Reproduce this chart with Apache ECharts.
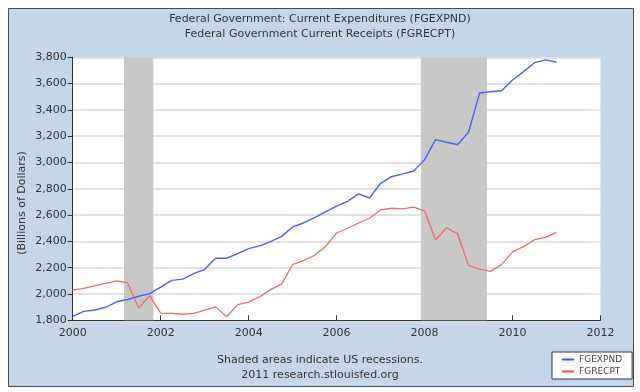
<!DOCTYPE html>
<html>
<head>
<meta charset="utf-8">
<script src="https://cdn.jsdelivr.net/npm/echarts@6/dist/echarts.min.js"></script>
<style>
html,body{margin:0;padding:0;background:#fff;}
#c{width:640px;height:392px;}
</style>
</head>
<body>
<div id="c"></div>
<script>
// Quarterly observations, 2000Q1 .. 2011Q1
var quarters = [
 '2000Q1','2000Q2','2000Q3','2000Q4','2001Q1','2001Q2','2001Q3','2001Q4',
 '2002Q1','2002Q2','2002Q3','2002Q4','2003Q1','2003Q2','2003Q3','2003Q4',
 '2004Q1','2004Q2','2004Q3','2004Q4','2005Q1','2005Q2','2005Q3','2005Q4',
 '2006Q1','2006Q2','2006Q3','2006Q4','2007Q1','2007Q2','2007Q3','2007Q4',
 '2008Q1','2008Q2','2008Q3','2008Q4','2009Q1','2009Q2','2009Q3','2009Q4',
 '2010Q1','2010Q2','2010Q3','2010Q4','2011Q1'
];
var fgexpnd = [
 1830,1868,1878,1899,1941,1958,1983,2003,
 2053,2104,2113,2155,2188,2272,2272,2307,
 2345,2366,2398,2438,2510,2540,2580,2624,
 2669,2705,2762,2730,2842,2892,2913,2935,
 3020,3174,3154,3135,3230,3528,3538,3546,
 3627,3691,3759,3780,3762
];
var fgrecpt = [
 2030,2043,2061,2081,2100,2084,1893,1988,
 1855,1853,1846,1853,1878,1902,1827,1919,
 1939,1978,2033,2075,2224,2255,2294,2362,
 2464,2500,2540,2576,2639,2652,2647,2661,
 2633,2411,2504,2458,2218,2190,2172,2223,
 2320,2360,2413,2430,2469
];
// Recessions (decimal years)
var recessionStarts = [2001.167, 2007.917];
var recessionEnds   = [2001.833, 2009.417];
var xTicks = ['2000','2002','2004','2006','2008','2010','2012'];
var yTicks = ['1,800','2,000','2,200','2,400','2,600','2,800','3,000','3,200','3,400','3,600','3,800'];
var titleLines = ['Federal Government: Current Expenditures (FGEXPND)','Federal Government Current Receipts (FGRECPT)'];
var footLines = ['Shaded areas indicate US recessions.','2011 research.stlouisfed.org'];
var seriesNames = ['FGEXPND','FGRECPT'];

function qToYear(q){ return parseInt(q.slice(0,4),10) + (parseInt(q.slice(5),10)-1)/4; }
function pairs(vals){ return quarters.map(function(q,i){ return [qToYear(q), vals[i]]; }); }

var FONT = 'DejaVu Sans';
var chart = echarts.init(document.getElementById('c'), null, {renderer:'canvas'});
var areas = recessionStarts.map(function(s,i){ return [{xAxis:s},{xAxis:recessionEnds[i]}]; });

chart.setOption({
  animation:false,
  backgroundColor:'#ffffff',
  graphic:[
    {type:'rect', z:-10, shape:{x:8.5,y:8.5,width:625,height:378}, style:{fill:'#c4d6ea', stroke:'#4a4a4a', lineWidth:1}},
    {type:'text', z:10, left:'center', top:12, style:{text:titleLines.join('\n'), font:'11px "'+FONT+'"', fill:'#333', textAlign:'center', lineHeight:15}},
    {type:'text', z:10, left:'center', top:353, style:{text:footLines.join('\n'), font:'11px "'+FONT+'"', fill:'#333', textAlign:'center', lineHeight:15}},
    {type:'text', z:10, x:22, y:203, rotation:Math.PI/2, style:{text:'(Billions of Dollars)', font:'11px "'+FONT+'"', fill:'#333', textAlign:'center', textVerticalAlign:'middle'}}
  ],
  grid:{left:72.7, right:39.5, top:57.3, bottom:71.7, show:true, backgroundColor:'#ffffff', borderWidth:0},
  legend:{
    data:seriesNames.map(function(n){return {name:n, icon:'rect'};}),
    orient:'vertical', left:552, top:352,
    itemWidth:12, itemHeight:2, itemGap:1,
    padding:[2,10,2,10],
    backgroundColor:'#ffffff', borderColor:'#333', borderWidth:1,
    textStyle:{fontFamily:FONT, fontSize:9, color:'#444', lineHeight:11}
  },
  xAxis:{
    type:'value', min:2000, max:2012, interval:2,
    axisLine:{show:true, onZero:false, lineStyle:{color:'#333', width:1}},
    axisTick:{show:true, inside:true, length:5, lineStyle:{color:'#333'}},
    splitLine:{show:false},
    axisLabel:{fontFamily:FONT, fontSize:11, color:'#333', margin:7,
      formatter:function(v){ var i=Math.round((v-2000)/2); return xTicks[i]||''; }}
  },
  yAxis:{
    type:'value', min:1800, max:3800, interval:200,
    axisLine:{show:true, lineStyle:{color:'#333', width:1}},
    axisTick:{show:true, inside:false, length:5, lineStyle:{color:'#333'}},
    splitLine:{show:true, lineStyle:{color:'#d9d9d9', width:1.5}},
    axisLabel:{fontFamily:FONT, fontSize:11, color:'#333', margin:6,
      formatter:function(v){ var i=Math.round((v-1800)/200); return yTicks[i]||''; }}
  },
  series:[
    {name:seriesNames[0], type:'line', data:pairs(fgexpnd), showSymbol:false, symbol:'none',
     lineStyle:{color:'#4066f8', width:1.4}, itemStyle:{color:'#2f5cff'},
     markArea:{silent:true, itemStyle:{color:'#c8c8c8', opacity:1}, data:areas}},
    {name:seriesNames[1], type:'line', data:pairs(fgrecpt), showSymbol:false, symbol:'none',
     lineStyle:{color:'#f26a5e', width:1.3}, itemStyle:{color:'#ff4a3c'}}
  ]
});
</script>
</body>
</html>
